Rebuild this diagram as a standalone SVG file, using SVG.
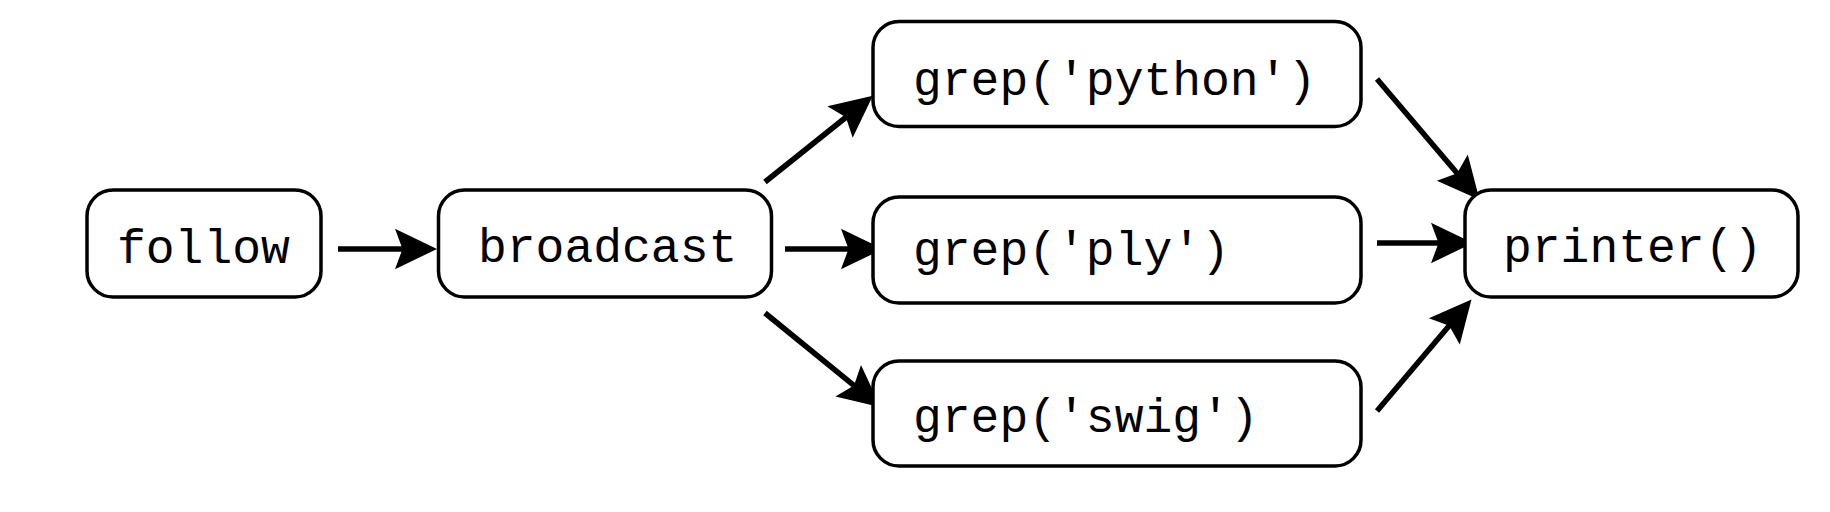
<svg xmlns="http://www.w3.org/2000/svg" width="1830" height="512" viewBox="0 0 1830 512">
<style>
.box{fill:#fff;stroke:#000;stroke-width:3.5}
.lbl{font-family:"Liberation Mono","DejaVu Sans Mono",monospace;font-size:48px;fill:#000}
.edge{stroke:#000;stroke-width:5.5;fill:none}
</style>
<defs>
<marker id="ah" markerUnits="userSpaceOnUse" orient="auto" refX="0" refY="0" markerWidth="60" markerHeight="60" viewBox="-15 -20 40 40" overflow="visible">
<path d="M20,0 L-8,-13.5 L-3,0 L-8,13.5 Z" fill="#000"/>
</marker>
</defs>
<rect width="1830" height="512" fill="#fff"/>
<g id="connectors">
<line class="edge" x1="338" y1="249" x2="407" y2="249" marker-end="url(#ah)"/>
<line class="edge" x1="785" y1="249" x2="853" y2="249" marker-end="url(#ah)"/>
<line class="edge" x1="1377" y1="243" x2="1443" y2="243" marker-end="url(#ah)"/>
<line class="edge" x1="765" y1="182" x2="849.4" y2="114.5" marker-end="url(#ah)"/>
<line class="edge" x1="765" y1="313" x2="857.5" y2="388.4" marker-end="url(#ah)"/>
<line class="edge" x1="1377" y1="79" x2="1460.1" y2="176.8" marker-end="url(#ah)"/>
<line class="edge" x1="1377" y1="411" x2="1452.1" y2="322.3" marker-end="url(#ah)"/>
</g>
<g id="follow">
<rect class="box" x="87" y="190" width="234" height="107" rx="26"/>
<text class="lbl" x="117" y="262.5">follow</text>
</g>
<g id="broadcast">
<rect class="box" x="438.5" y="190" width="333" height="107" rx="26"/>
<text class="lbl" x="478" y="262">broadcast</text>
</g>
<g id="grep-python">
<rect class="box" x="873" y="21.5" width="488" height="105" rx="26"/>
<text class="lbl" x="913" y="95">grep('python')</text>
</g>
<g id="grep-ply">
<rect class="box" x="873" y="197" width="488" height="106" rx="26"/>
<text class="lbl" x="913" y="265">grep('ply')</text>
</g>
<g id="grep-swig">
<rect class="box" x="873" y="361" width="488" height="105" rx="26"/>
<text class="lbl" x="913" y="432">grep('swig')</text>
</g>
<g id="printer">
<rect class="box" x="1465" y="190" width="333" height="107" rx="26"/>
<text class="lbl" x="1503" y="262">printer()</text>
</g>
</svg>
